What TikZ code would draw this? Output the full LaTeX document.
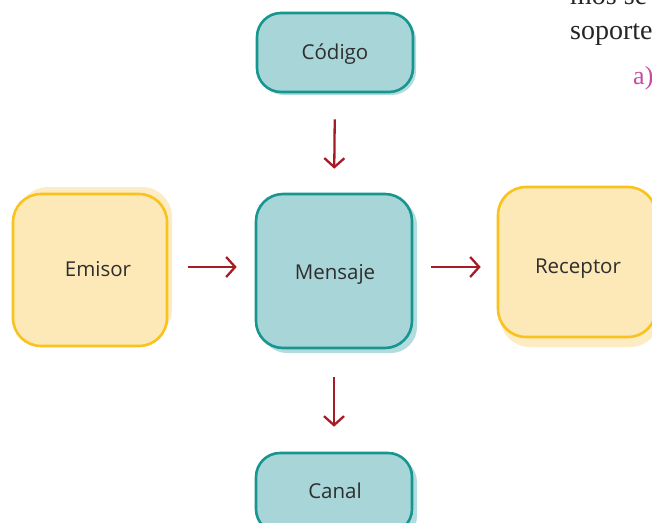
\documentclass[tikz,border=0pt]{standalone}
\usepackage{fontspec}
\setmainfont{Open Sans}
\newfontfamily\serifw{Liberation Serif}
\usetikzlibrary{arrows.meta}
\definecolor{tealfill}{HTML}{A8D5D8}
\definecolor{tealline}{HTML}{16968E}
\definecolor{tealshadow}{HTML}{B4DCDE}
\definecolor{yelfill}{HTML}{FDE9B8}
\definecolor{yelline}{HTML}{F9C21C}
\definecolor{yelshadow}{HTML}{FDEBC3}
\definecolor{arrowred}{HTML}{A51C24}
\definecolor{txt}{HTML}{2E2E2E}
\definecolor{magenta}{HTML}{C94A9E}
\tikzset{
  tealbox/.style={draw=tealline, fill=tealfill, line width=2.6pt, rounded corners=24pt, inner sep=0pt},
  yelbox/.style={draw=yelline, fill=yelfill, line width=2.6pt, rounded corners=28pt, inner sep=0pt},
  lbl/.style={text=txt, font=\fontsize{20.5}{24}\selectfont},
  flow/.style={draw=arrowred, line width=2.3pt, -{Straight Barb[length=9pt,width=20pt,line width=2.3pt]}},
  pagetext/.style={anchor=base west, inner sep=0pt, font=\serifw\fontsize{28}{32}\selectfont, text=black!85},
}
\begin{document}
\begin{tikzpicture}[x=1pt,y=-1pt]
\useasboundingbox (0,0) rectangle (652,522);
\clip (0,0) rectangle (652,522);
% shadows
\fill[tealshadow, rounded corners=24pt] (260,16) rectangle (416,95);
\fill[tealshadow, rounded corners=26pt] (261,199) rectangle (417,353);
\fill[tealshadow, rounded corners=24pt] (261,458) rectangle (417,540);
\fill[yelshadow, rounded corners=30pt] (18,187) rectangle (172,339);
\fill[yelshadow, rounded corners=30pt] (500,197) rectangle (660,347);
% boxes
\node[tealbox, minimum width=156pt, minimum height=79pt] (codigo) at (335,52.5) {};
\node[tealbox, rounded corners=27pt, minimum width=156pt, minimum height=154pt] (mensaje) at (334,271) {};
\node[tealbox, minimum width=156pt, minimum height=80pt] (canal) at (334,493) {};
\node[yelbox, minimum width=154pt, minimum height=152pt] (emisor) at (90,270) {};
\node[yelbox, minimum width=158pt, minimum height=150pt] (receptor) at (577,262) {};
% labels
\node[lbl] (tcodigo) at (335,54) {Código};
\node[lbl] (tmensaje) at (335,274) {Mensaje};
\node[lbl] (tcanal) at (335,491) {Canal};
\node[lbl] (temisor) at (98,269) {Emisor};
\node[lbl] (treceptor) at (578,269) {Receptor};
% arrows
\draw[flow, shorten <=26pt, shorten >=24pt] (codigo.south) -- (mensaje.north);
\draw[flow, shorten <=28pt, shorten >=25pt] (mensaje.south) -- (canal.north);
\draw[flow, shorten <=20pt, shorten >=18pt] ([yshift=3pt]emisor.east) -- ([yshift=4pt]mensaje.west);
\draw[flow, shorten <=18pt, shorten >=16pt] ([yshift=4pt]mensaje.east) -- ([yshift=-5pt]receptor.west);
% page text
\node[pagetext] (t1) at (570,5) {mos se};
\node[pagetext] (t2) at (570,39) {soporte};
\node[pagetext, text=magenta, font=\serifw\fontsize{26}{30}\selectfont] (t3) at (633,84) {a)};
\end{tikzpicture}
\end{document}
